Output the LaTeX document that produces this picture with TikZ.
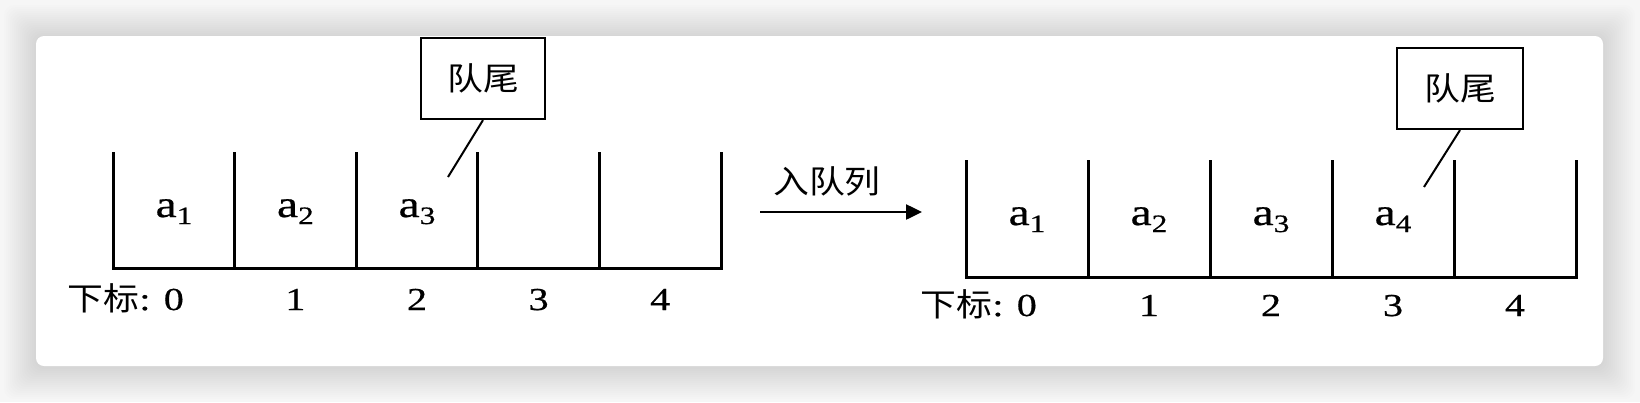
\documentclass[tikz,border=0pt]{standalone}
\usepackage{fontspec}
\setmainfont{Liberation Serif}[FakeStretch=1.25,FakeBold=0.6]
\newfontfamily\cjk{Noto Sans CJK SC}[FakeStretch=1.12]
\usetikzlibrary{arrows.meta}
\definecolor{bggray}{HTML}{F6F6F6}
\tikzset{
  wall/.style={line width=3pt, line cap=rect, line join=miter},
  tailbox/.style={draw, line width=2.2pt, minimum width=124pt, minimum height=81pt,
    inner sep=0pt, font=\cjk\fontsize{32}{32}\selectfont},
  leader/.style={line width=2pt},
  elem/.style={anchor=base, inner sep=0pt, font=\fontsize{38}{38}\selectfont},
  idx/.style={anchor=base, inner sep=0pt, font=\fontsize{32}{32}\selectfont},
  idxhead/.style={anchor=base east, inner sep=0pt, font=\fontsize{32}{32}\selectfont},
  cjktext/.style={inner sep=0pt, font=\cjk\fontsize{32}{32}\selectfont},
  enq/.style={line width=2.5pt, -{Triangle[length=16pt,width=15pt]}},
}
\newcommand{\elt}[1]{a\raisebox{-7pt}{\fontsize{25}{25}\selectfont #1}}
\begin{document}
\begin{tikzpicture}[x=1pt,y=-1pt]
  % background and card
  \fill[bggray] (0,0) rectangle (1640,402);
  \useasboundingbox (0,0) rectangle (1640,402);
  \foreach \i in {1,...,16}{
    \fill[black,opacity=0.009,rounded corners=10pt]
      ({36-2*\i},{36-2*\i+1}) rectangle ({1603+2*\i},{366+2*\i+1});
  }
  \fill[white,rounded corners=8pt] (36,36) rectangle (1603,366);

  % ---------- left queue ----------
  \draw[wall] (113,153) -- (113,268) -- (721,268) -- (721,153);
  \foreach \x in {234.6,356.2,477.8,599.4}{
    \draw[wall] (\x,153) -- (\x,268);
  }
  \node[elem] (l1) at (174,217) {\elt{1}};
  \node[elem] (l2) at (295.4,217) {\elt{2}};
  \node[elem] (l3) at (417,217) {\elt{3}};
  \node[idxhead] (li0) at (184,310) {{\cjk 下标}: 0};
  \node[idx] (li1) at (295.4,310) {1};
  \node[idx] (li2) at (417,310) {2};
  \node[idx] (li3) at (538.6,310) {3};
  \node[idx] (li4) at (660.2,310) {4};
  \node[tailbox] (tl) at (483,78.5) {队尾};
  \coordinate (tlend) at (448,177);
  \draw[leader] (tl.south) -- (tlend);

  % ---------- arrow ----------
  \coordinate (arrS) at (760,212);
  \coordinate (arrE) at (922,212);
  \draw[enq] (arrS) -- (arrE);
  \node[cjktext] (enqlab) at (827,181) {入队列};

  % ---------- right queue ----------
  \draw[wall] (966,161) -- (966,277) -- (1576,277) -- (1576,161);
  \foreach \x in {1088,1210,1332,1454}{
    \draw[wall] (\x,161) -- (\x,277);
  }
  \node[elem] (r1) at (1027,225) {\elt{1}};
  \node[elem] (r2) at (1149,225) {\elt{2}};
  \node[elem] (r3) at (1271,225) {\elt{3}};
  \node[elem] (r4) at (1393,225) {\elt{4}};
  \node[idxhead] (ri0) at (1037,316) {{\cjk 下标}: 0};
  \node[idx] (ri1) at (1149,316) {1};
  \node[idx] (ri2) at (1271,316) {2};
  \node[idx] (ri3) at (1393,316) {3};
  \node[idx] (ri4) at (1515,316) {4};
  \node[tailbox, minimum width=126pt] (tr) at (1460,88.5) {队尾};
  \coordinate (trend) at (1424,187);
  \draw[leader] (tr.south) -- (trend);
\end{tikzpicture}
\end{document}
